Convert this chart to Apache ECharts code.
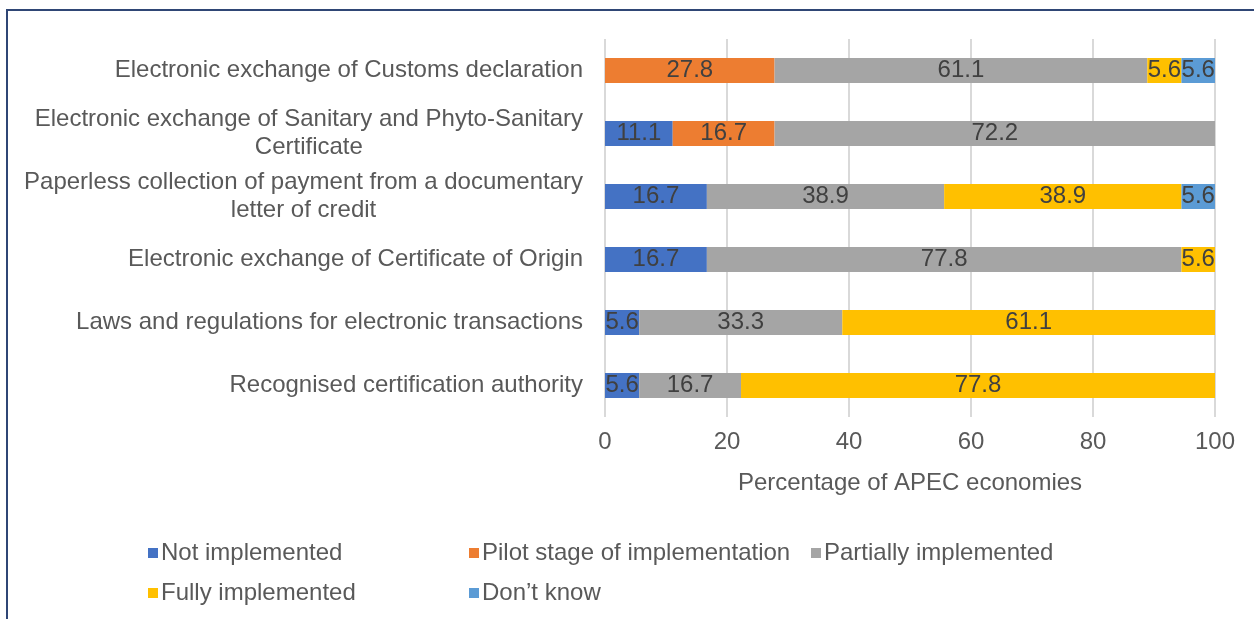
<!DOCTYPE html>
<html>
<head>
<meta charset="utf-8">
<script src="https://cdn.jsdelivr.net/npm/echarts@6/dist/echarts.min.js"></script>
<style>
  html, body { margin: 0; padding: 0; background: #fff; }
  #frame {
    position: absolute; left: 6px; top: 9px; width: 1300px; height: 700px;
    border: 2px solid #2f4675; box-sizing: border-box;
  }
  #main { position: absolute; left: 0; top: 0; width: 1254px; height: 619px; }
</style>
</head>
<body>
<div id="frame"></div>
<div id="main"></div>
<script>
// categories, bottom to top
var categories = [
  'Recognised certification authority',
  'Laws and regulations for electronic transactions',
  'Electronic exchange of Certificate of Origin',
  'Paperless collection of payment from a documentary\nletter of credit',
  'Electronic exchange of Sanitary and Phyto-Sanitary\nCertificate',
  'Electronic exchange of Customs declaration'
];
var notImplemented = [5.6, 5.6, 16.7, 16.7, 11.1, null];
var pilotStage     = [null, null, null, null, 16.7, 27.8];
var partially      = [16.7, 33.3, 77.8, 38.9, 72.2, 61.1];
var fully          = [77.8, 61.1, 5.6, 38.9, null, 5.6];
var dontKnow       = [null, null, null, 5.6, null, 5.6];

var seriesNames = ['Not implemented', 'Pilot stage of implementation', 'Partially implemented', 'Fully implemented', 'Don\u2019t know'];
var seriesColors = ['#4472c4', '#ed7d31', '#a5a5a5', '#ffc000', '#5b9bd5'];
var seriesData = [notImplemented, pilotStage, partially, fully, dontKnow];

var font = '"Liberation Sans", Arial, sans-serif';
var fs = 24;
var textColor = '#595959';

var chart = echarts.init(document.getElementById('main'));

var legendBase = {
  orient: 'vertical',
  itemWidth: 10,
  itemHeight: 10,
  itemGap: 16,
  icon: 'rect',
  textStyle: { fontFamily: font, fontSize: fs, color: textColor, padding: [0, 0, 0, -2] }
};

var option = {
  animation: false,
  textStyle: { fontFamily: font },
  legend: [
    Object.assign({ left: 143, top: 536, data: [seriesNames[0], seriesNames[3]] }, legendBase),
    Object.assign({ left: 464, top: 536, data: [seriesNames[1], seriesNames[4]] }, legendBase),
    Object.assign({ left: 806, top: 536, data: [seriesNames[2]] }, legendBase)
  ],
  grid: { left: 605, right: 39, top: 39, height: 378, containLabel: false },
  xAxis: {
    type: 'value',
    min: 0, max: 100, interval: 20,
    name: 'Percentage of APEC economies',
    nameLocation: 'middle',
    nameGap: 54,
    nameTextStyle: { fontFamily: font, fontSize: fs, color: textColor },
    axisLine: { show: false },
    axisTick: { show: false },
    axisLabel: { fontFamily: font, fontSize: fs, color: textColor, margin: 13 },
    splitLine: { lineStyle: { color: '#d9d9d9', width: 2 } }
  },
  yAxis: {
    type: 'category',
    data: categories,
    axisLine: { show: false },
    axisTick: { show: false },
    axisLabel: {
      margin: 22,
      formatter: function (v) { return '{c|' + v + '}'; },
      rich: { c: { fontFamily: font, fontSize: fs, color: textColor, align: 'center', lineHeight: 28 } }
    }
  },
  series: seriesData.map(function (d, i) {
    return {
      name: seriesNames[i],
      type: 'bar',
      stack: 'total',
      barWidth: '40%',
      data: d,
      itemStyle: { color: seriesColors[i] },
      label: {
        show: true,
        position: 'inside',
        fontFamily: font,
        fontSize: fs,
        color: '#404040',
        formatter: function (p) { return p.value == null ? '' : p.value.toFixed(1); }
      }
    };
  })
};

chart.setOption(option);
</script>
</body>
</html>
